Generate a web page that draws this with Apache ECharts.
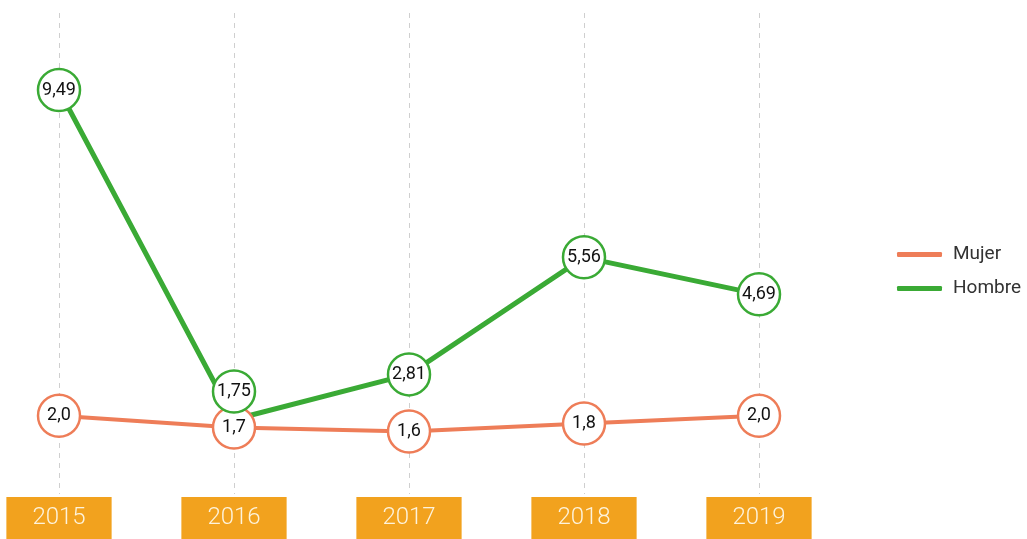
<!DOCTYPE html>
<html>
<head>
<meta charset="utf-8">
<script src="https://cdn.jsdelivr.net/npm/echarts@6/dist/echarts.min.js"></script>
<style>
  html, body { margin: 0; padding: 0; background: #fff; }
  #chart { width: 1027px; height: 539px; }
</style>
</head>
<body>
<div id="chart"></div>
<script>
const years = ['2015', '2016', '2017', '2018', '2019']
const mujer = [2.0, 1.7, 1.6, 1.8, 2.0]
const hombre = [9.49, 1.75, 2.81, 5.56, 4.69]

const GREEN = '#3aaa35'
const ORANGE = '#ee7d58'

const fmt1 = v => v.toFixed(1).replace('.', ',')
const fmt2 = v => v.toFixed(2).replace('.', ',')

function pointStyle (color, fmt) {
  return {
    type: 'line',
    symbol: 'circle',
    symbolSize: 42,
    itemStyle: { color: '#fff', borderColor: color, borderWidth: 2.5 },
    lineStyle: { color: color, width: 5 },
    label: {
      show: true,
      position: 'inside',
      color: '#111',
      fontFamily: 'Roboto',
      fontSize: 18,
      formatter: p => fmt(typeof p.value === 'object' ? p.value.value : p.value)
    },
    emphasis: { disabled: true }
  }
}

const chart = echarts.init(document.getElementById('chart'))

chart.setOption({
  animation: false,
  grid: { left: 59, right: 268, top: 13, bottom: 42 },
  legend: {
    orient: 'vertical',
    left: 892,
    top: 240,
    itemGap: 15,
    itemWidth: 45,
    itemHeight: 5,
    icon: 'roundRect',
    textStyle: { fontFamily: 'Roboto', fontSize: 19, color: '#333', padding: [0, 0, 0, 6] },
    data: [
      { name: 'Mujer', itemStyle: { color: ORANGE, borderWidth: 0 } },
      { name: 'Hombre', itemStyle: { color: GREEN, borderWidth: 0 } }
    ]
  },
  xAxis: {
    type: 'category',
    data: years,
    boundaryGap: false,
    axisLine: { show: false },
    axisTick: { show: false },
    splitLine: { show: true, lineStyle: { color: '#cfcfcf', type: [5, 5], width: 1 } },
    axisLabel: {
      margin: 3,
      color: '#fdf3dc',
      fontFamily: 'Roboto',
      fontWeight: 300,
      fontSize: 24,
      lineHeight: 26,
      backgroundColor: '#f2a21e',
      padding: [8, 26, 8, 26]
    }
  },
  yAxis: [
    { type: 'value', min: 0, max: 11.3, show: false, splitLine: { show: false } },
    { type: 'value', min: 0, max: 12.3, show: false, splitLine: { show: false } }
  ],
  series: [
    Object.assign(pointStyle(ORANGE, fmt1), {
      name: 'Mujer',
      yAxisIndex: 1,
      data: mujer,
      lineStyle: { color: ORANGE, width: 4 },
      color: ORANGE
    }),
    Object.assign(pointStyle(GREEN, fmt2), {
      name: 'Hombre',
      color: GREEN,
      data: hombre.map((v, i) => i === 1
        ? { value: v, symbolOffset: [0, -28] }
        : v)
    })
  ]
})
</script>
</body>
</html>
